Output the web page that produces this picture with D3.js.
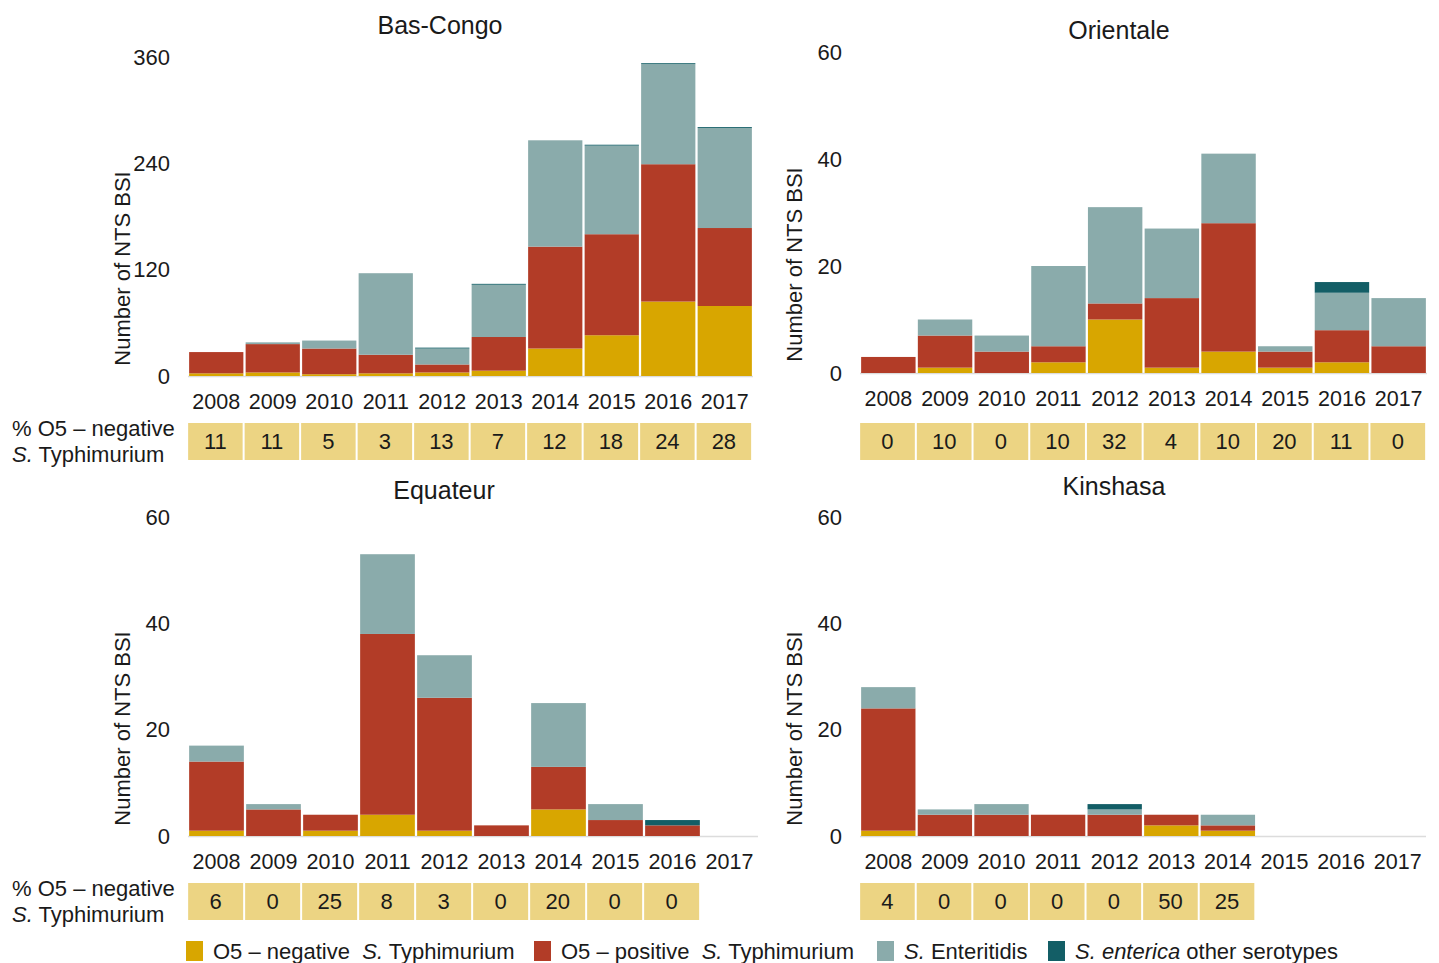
<!DOCTYPE html>
<html>
<head>
<meta charset="utf-8">
<script src="https://cdn.jsdelivr.net/npm/d3@7"></script>
<style>
  body { margin: 0; background: #fff; }
  text { font-family: "Liberation Sans", Arial, sans-serif; fill: #1a1a1a; }
</style>
</head>
<body>
<div id="chart"></div>
<script>
// years shown on every panel
var years = ["2008", "2009", "2010", "2011", "2012", "2013", "2014", "2015", "2016", "2017"];

// series keys, bottom to top
var serotypes = ["neg", "pos", "ent", "oth"];

// Bas-Congo counts
var basCongoNeg = [3, 4, 2, 3, 4, 6, 31, 46, 84, 79];
var basCongoPos = [24, 32, 29, 21, 9, 38, 115, 114, 155, 88];
var basCongoEnt = [0, 2, 9, 92, 18, 59, 120, 100, 113, 113];
var basCongoOth = [0, 0, 0, 0, 1, 1, 0, 1, 1, 1];
var basCongoPct = [11, 11, 5, 3, 13, 7, 12, 18, 24, 28];

// Orientale counts
var orientaleNeg = [0, 1, 0, 2, 10, 1, 4, 1, 2, 0];
var orientalePos = [3, 6, 4, 3, 3, 13, 24, 3, 6, 5];
var orientaleEnt = [0, 3, 3, 15, 18, 13, 13, 1, 7, 9];
var orientaleOth = [0, 0, 0, 0, 0, 0, 0, 0, 2, 0];
var orientalePct = [0, 10, 0, 10, 32, 4, 10, 20, 11, 0];

// Equateur counts
var equateurNeg = [1, 0, 1, 4, 1, 0, 5, 0, 0, 0];
var equateurPos = [13, 5, 3, 34, 25, 2, 8, 3, 2, 0];
var equateurEnt = [3, 1, 0, 15, 8, 0, 12, 3, 0, 0];
var equateurOth = [0, 0, 0, 0, 0, 0, 0, 0, 1, 0];
var equateurPct = [6, 0, 25, 8, 3, 0, 20, 0, 0];

// Kinshasa counts
var kinshasaNeg = [1, 0, 0, 0, 0, 2, 1, 0, 0, 0];
var kinshasaPos = [23, 4, 4, 4, 4, 2, 1, 0, 0, 0];
var kinshasaEnt = [4, 1, 2, 0, 1, 0, 2, 0, 0, 0];
var kinshasaOth = [0, 0, 0, 0, 1, 0, 0, 0, 0, 0];
var kinshasaPct = [4, 0, 0, 0, 0, 50, 25];

var colors = { neg: "#d8a600", pos: "#b23c27", ent: "#8aabab", oth: "#135e66" };
var boxColor = "#ecd483";

var svgWidth = 1439;
var svgHeight = 963;

var svg = d3.select("#chart").append("svg")
    .attr("width", svgWidth)
    .attr("height", svgHeight);

// build rows for d3.stack
function makeRows(neg, pos, ent, oth) {
    return years.map(function (year, i) {
        return { year: year, neg: neg[i], pos: pos[i], ent: ent[i], oth: oth[i] };
    });
}

var panels = [
    { title: "Bas-Congo", titleX: 440, titleY: 34, rows: makeRows(basCongoNeg, basCongoPos, basCongoEnt, basCongoOth),
      pct: basCongoPct, x0: 188, x1: 753, yTop: 57, yBase: 376, yMax: 360, ticks: [0, 120, 240, 360], boxY: 423, pctLabel: true },
    { title: "Orientale", titleX: 1119, titleY: 39, rows: makeRows(orientaleNeg, orientalePos, orientaleEnt, orientaleOth),
      pct: orientalePct, x0: 860, x1: 1427, yTop: 52, yBase: 373, yMax: 60, ticks: [0, 20, 40, 60], boxY: 423, pctLabel: false },
    { title: "Equateur", titleX: 444, titleY: 499, rows: makeRows(equateurNeg, equateurPos, equateurEnt, equateurOth),
      pct: equateurPct, x0: 188, x1: 758, yTop: 517, yBase: 836, yMax: 60, ticks: [0, 20, 40, 60], boxY: 883, pctLabel: true },
    { title: "Kinshasa", titleX: 1114, titleY: 495, rows: makeRows(kinshasaNeg, kinshasaPos, kinshasaEnt, kinshasaOth),
      pct: kinshasaPct, x0: 860, x1: 1426, yTop: 517, yBase: 836, yMax: 60, ticks: [0, 20, 40, 60], boxY: 883, pctLabel: false }
];

var stack = d3.stack().keys(serotypes);

panels.forEach(function (p) {
    var g = svg.append("g");

    var xScale = d3.scaleBand()
        .domain(years)
        .range([p.x0, p.x1])
        .paddingInner(0.04)
        .paddingOuter(0.02);

    var yScale = d3.scaleLinear()
        .domain([0, p.yMax])
        .range([p.yBase, p.yTop]);

    // title
    g.append("text")
        .attr("x", p.titleX)
        .attr("y", p.titleY)
        .attr("text-anchor", "middle")
        .attr("font-size", 25)
        .text(p.title);

    // light baseline
    g.append("line")
        .attr("x1", p.x0)
        .attr("x2", p.x1)
        .attr("y1", p.yBase + 0.5)
        .attr("y2", p.yBase + 0.5)
        .attr("stroke", "#dcdcdc")
        .attr("stroke-width", 1.5);

    // stacked bars
    var layers = g.selectAll(".layer")
        .data(stack(p.rows))
        .enter().append("g")
        .attr("fill", function (d) { return colors[d.key]; });

    layers.selectAll("rect")
        .data(function (d) { return d.filter(function (s) { return s[1] > s[0]; }); })
        .enter().append("rect")
        .attr("x", function (d) { return xScale(d.data.year); })
        .attr("width", xScale.bandwidth())
        .attr("y", function (d) { return yScale(d[1]); })
        .attr("height", function (d) { return yScale(d[0]) - yScale(d[1]); });

    // y axis
    var yAxis = d3.axisLeft(yScale).tickValues(p.ticks).tickSize(0).tickPadding(18);
    var yG = g.append("g")
        .attr("transform", `translate(${p.x0}, 0)`)
        .call(yAxis);
    yG.select(".domain").remove();
    yG.selectAll("text").attr("font-size", 22).attr("font-family", "Liberation Sans, Arial, sans-serif").attr("fill", "#1a1a1a");

    // x axis
    var xAxis = d3.axisBottom(xScale).tickSize(0).tickPadding(18);
    var xG = g.append("g")
        .attr("transform", `translate(0, ${p.yBase})`)
        .call(xAxis);
    xG.select(".domain").remove();
    xG.selectAll("text").attr("font-size", 21.5).attr("font-family", "Liberation Sans, Arial, sans-serif").attr("fill", "#1a1a1a");

    // y axis label
    g.append("text")
        .attr("transform", `translate(${p.x0 - 58}, ${(p.yBase + p.yTop) / 2 + 52}) rotate(-90)`)
        .attr("text-anchor", "middle")
        .attr("font-size", 22)
        .text("Number of NTS BSI");

    // percentage boxes
    var boxes = g.selectAll(".pct")
        .data(p.pct)
        .enter().append("g")
        .attr("transform", function (d, i) { return `translate(${xScale(years[i]) - 1}, ${p.boxY})`; });

    boxes.append("rect")
        .attr("width", xScale.step() - 2)
        .attr("height", 37)
        .attr("fill", boxColor);

    boxes.append("text")
        .attr("x", (xScale.step() - 2) / 2)
        .attr("y", 26)
        .attr("text-anchor", "middle")
        .attr("font-size", 22)
        .text(function (d) { return d; });

    if (p.pctLabel) {
        g.append("text")
            .attr("x", 12)
            .attr("y", p.boxY + 13)
            .attr("font-size", 22)
            .text("% O5 \u2013 negative");
        var t = g.append("text")
            .attr("x", 12)
            .attr("y", p.boxY + 39)
            .attr("font-size", 22);
        t.append("tspan").attr("font-style", "italic").text("S.");
        t.append("tspan").text(" Typhimurium");
    }
});

// legend
var legendItems = [
    { key: "neg", x: 186, parts: [["O5 \u2013 negative  ", false], ["S.", true], [" Typhimurium", false]] },
    { key: "pos", x: 534, parts: [["O5 \u2013 positive  ", false], ["S.", true], [" Typhimurium", false]] },
    { key: "ent", x: 877, parts: [["S.", true], [" Enteritidis", false]] },
    { key: "oth", x: 1048, parts: [["S. enterica", true], [" other serotypes", false]] }
];

var legend = svg.append("g");
legendItems.forEach(function (item) {
    legend.append("rect")
        .attr("x", item.x)
        .attr("y", 941)
        .attr("width", 17)
        .attr("height", 20)
        .attr("fill", colors[item.key]);
    var t = legend.append("text")
        .attr("x", item.x + 27)
        .attr("y", 959)
        .attr("font-size", 22)
        .attr("xml:space", "preserve")
        .style("white-space", "pre");
    item.parts.forEach(function (part) {
        t.append("tspan")
            .attr("font-style", part[1] ? "italic" : "normal")
            .text(part[0]);
    });
});
</script>
</body>
</html>
